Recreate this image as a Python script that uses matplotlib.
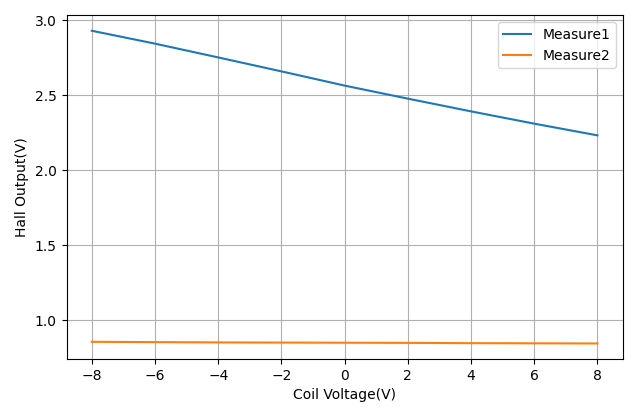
import matplotlib
matplotlib.use("Agg")
import matplotlib.pyplot as plt

coil_voltage = [-8, -6, -4, -2, 0, 2, 4, 6, 8]
measure1 = [2.931, 2.845, 2.753, 2.660, 2.565, 2.478, 2.393, 2.311, 2.233]
measure2 = [0.855, 0.853, 0.851, 0.850, 0.849, 0.848, 0.846, 0.845, 0.844]

fig, ax = plt.subplots(figsize=(6.4, 4.09), dpi=100)
ax.plot(coil_voltage, measure1, label="Measure1")
ax.plot(coil_voltage, measure2, label="Measure2")
ax.set_xlabel("Coil Voltage(V)")
ax.set_ylabel("Hall Output(V)")
ax.grid(True)
ax.legend(loc="upper right")
fig.subplots_adjust(left=0.104, right=0.973, top=0.963, bottom=0.122)
fig.savefig("out.png", dpi=100)
